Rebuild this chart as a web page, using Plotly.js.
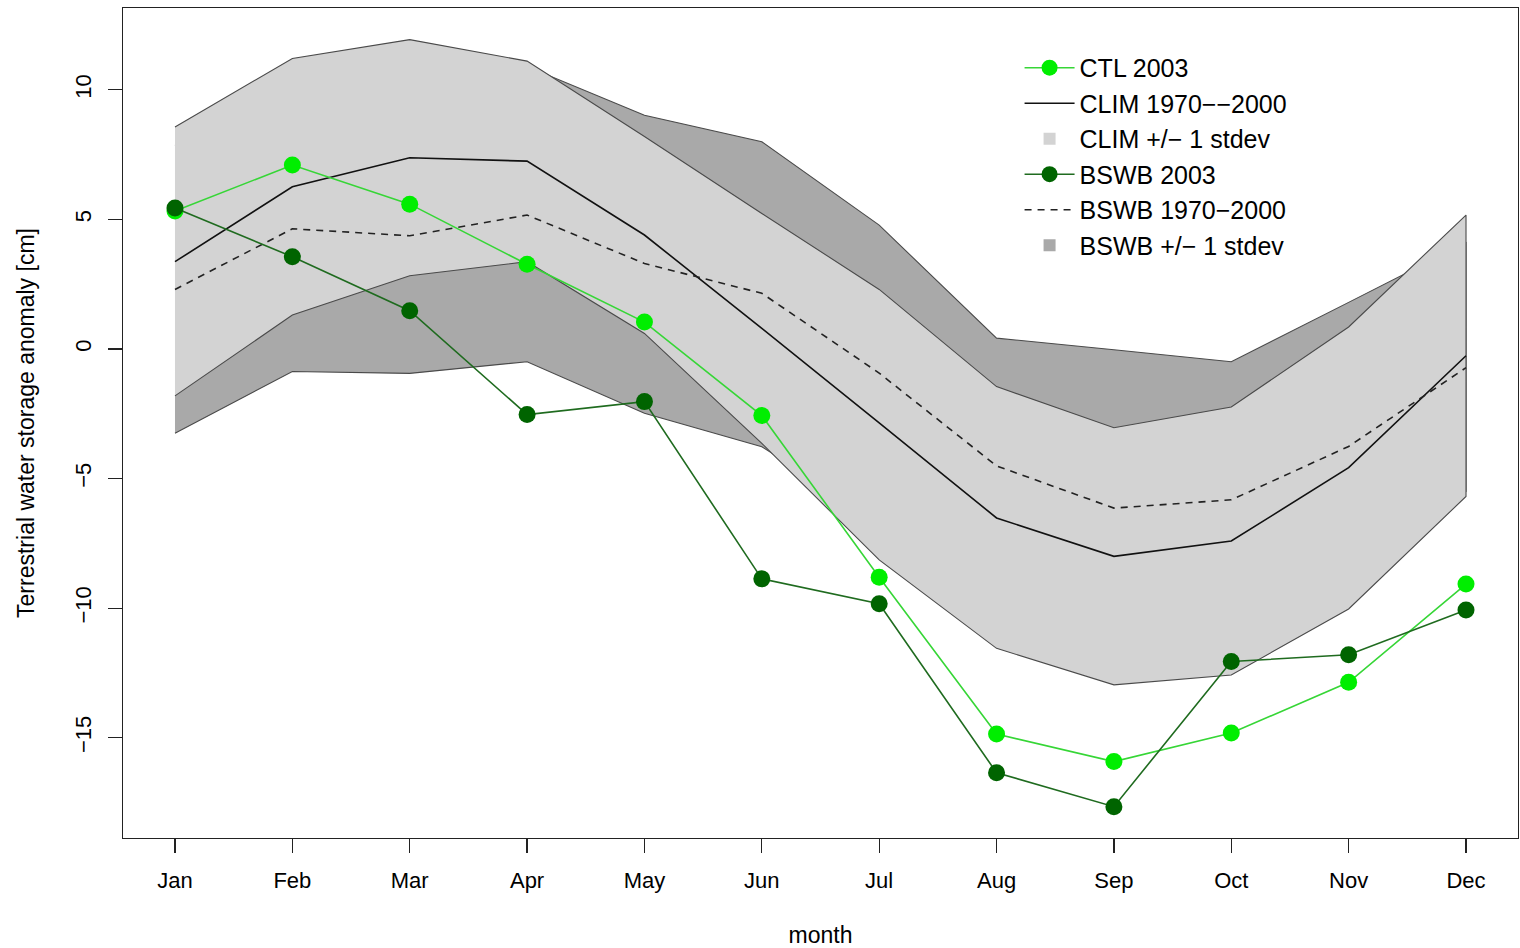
<!DOCTYPE html>
<html>
<head>
<meta charset="utf-8">
<script src="https://cdn.plot.ly/plotly-3.0.1.min.js"></script>
<style>
  html, body { margin: 0; padding: 0; background: #ffffff; }
  #chart { width: 1520px; height: 948px; }
</style>
</head>
<body>
<div id="chart"></div>
<script>
// ---- data ----
const monthIdx = [1, 2, 3, 4, 5, 6, 7, 8, 9, 10, 11, 12];
const monthLabels = ["Jan", "Feb", "Mar", "Apr", "May", "Jun", "Jul", "Aug", "Sep", "Oct", "Nov", "Dec"];

const ctl2003  = [5.33, 7.10, 5.59, 3.27, 1.04, -2.57, -8.81, -14.86, -15.92, -14.82, -12.86, -9.07];
const bswb2003 = [5.44, 3.56, 1.48, -2.53, -2.03, -8.87, -9.83, -16.35, -17.66, -12.06, -11.80, -10.07];

const climMean = [3.37, 6.26, 7.38, 7.25, 4.40, 0.80, -2.85, -6.52, -8.00, -7.41, -4.58, -0.26];
const climHi   = [8.57, 11.21, 11.94, 11.11, 8.20, 5.23, 2.30, -1.45, -3.04, -2.24, 0.85, 5.17];
const climLo   = [-1.81, 1.31, 2.83, 3.37, 0.60, -3.64, -8.14, -11.55, -12.96, -12.58, -10.03, -5.69];

const bswbMean = [2.30, 4.64, 4.37, 5.17, 3.30, 2.15, -0.93, -4.51, -6.14, -5.82, -3.76, -0.72];
const bswbHi   = [7.85, 10.15, 9.68, 10.90, 9.02, 8.00, 4.78, 0.42, -0.03, -0.49, 1.80, 4.10];
const bswbLo   = [-3.25, -0.87, -0.94, -0.49, -2.48, -3.77, -6.64, -9.44, -12.25, -11.15, -9.30, -5.50];

const legendNames = ["CTL 2003", "CLIM 1970\u2212\u22122000", "CLIM +/\u2212 1 stdev",
                     "BSWB 2003", "BSWB 1970\u22122000", "BSWB +/\u2212 1 stdev"];

// ---- build band polygons from the arrays ----
function band(hi, lo) {
  return {
    x: monthIdx.concat(monthIdx.slice().reverse()),
    y: hi.concat(lo.slice().reverse())
  };
}
const darkBand = band(bswbHi, bswbLo);
const lightBand = band(climHi, climLo);

const FONT = "Liberation Sans, Arial, Helvetica, sans-serif";

const traces = [
  { x: darkBand.x, y: darkBand.y, type: "scatter", mode: "lines", fill: "toself",
    fillcolor: "#a9a9a9", line: { color: "#4a4a4a", width: 1.1 }, showlegend: false, hoverinfo: "skip" },
  { x: lightBand.x, y: lightBand.y, type: "scatter", mode: "lines", fill: "toself",
    fillcolor: "#d3d3d3", line: { color: "#4a4a4a", width: 1.1 }, showlegend: false, hoverinfo: "skip" },
  { x: monthIdx, y: climMean, type: "scatter", mode: "lines", name: legendNames[1], legendrank: 2,
    line: { color: "#111111", width: 1.6 } },
  { x: monthIdx, y: bswbMean, type: "scatter", mode: "lines", name: legendNames[4], legendrank: 5,
    line: { color: "#222222", width: 1.6, dash: "7px,6px" } },
  { x: monthIdx, y: ctl2003, type: "scatter", mode: "lines+markers", name: legendNames[0], legendrank: 1,
    line: { color: "#36d636", width: 1.6 }, marker: { color: "#00ee00", size: 17 } },
  { x: monthIdx, y: bswb2003, type: "scatter", mode: "lines+markers", name: legendNames[3], legendrank: 4,
    line: { color: "#1f6b1f", width: 1.6 }, marker: { color: "#006400", size: 17 } },
  { x: [null], y: [null], type: "scatter", mode: "markers", name: legendNames[2], legendrank: 3,
    marker: { symbol: "square", color: "#d3d3d3", size: 12 } },
  { x: [null], y: [null], type: "scatter", mode: "markers", name: legendNames[5], legendrank: 6,
    marker: { symbol: "square", color: "#a9a9a9", size: 12 } }
];

const layout = {
  width: 1520, height: 948,
  paper_bgcolor: "#ffffff", plot_bgcolor: "#ffffff",
  margin: { l: 123, r: 2, t: 8, b: 110 },
  font: { family: FONT, color: "#000000" },
  showlegend: true,
  legend: {
    x: 0.6427, xanchor: "left", y: 0.9555, yanchor: "top",
    bgcolor: "rgba(0,0,0,0)", borderwidth: 0,
    font: { family: FONT, size: 25, color: "#000000" },
    itemwidth: 50, tracegroupgap: 0
  },
  xaxis: {
    range: [0.557, 12.443], tickmode: "array", tickvals: monthIdx, ticktext: monthLabels,
    showgrid: false, zeroline: false, showline: true, mirror: true, linecolor: "#222222", linewidth: 1.3,
    ticks: "outside", ticklen: 14, tickcolor: "#222222", tickwidth: 1.2,
    ticklabelstandoff: 8,
    tickfont: { family: FONT, size: 22, color: "#000000" },
    title: { text: "month", font: { family: FONT, size: 23, color: "#000000" }, standoff: 39 },
    automargin: false
  },
  yaxis: {
    range: [-18.87, 13.16], tickmode: "array", tickvals: [-15, -10, -5, 0, 5, 10],
    showgrid: false, zeroline: false, showline: true, mirror: true, linecolor: "#222222", linewidth: 1.3,
    ticks: "outside", ticklen: 14, tickcolor: "#222222", tickwidth: 1.2,
    tickangle: -90, ticklabelstandoff: 8,
    tickfont: { family: FONT, size: 22, color: "#000000" },
    title: { text: "Terrestrial water storage anomaly [cm]", font: { family: FONT, size: 23, color: "#000000" }, standoff: 30 },
    automargin: false
  }
};

Plotly.newPlot("chart", traces, layout, { displayModeBar: false, staticPlot: true });
</script>
</body>
</html>
